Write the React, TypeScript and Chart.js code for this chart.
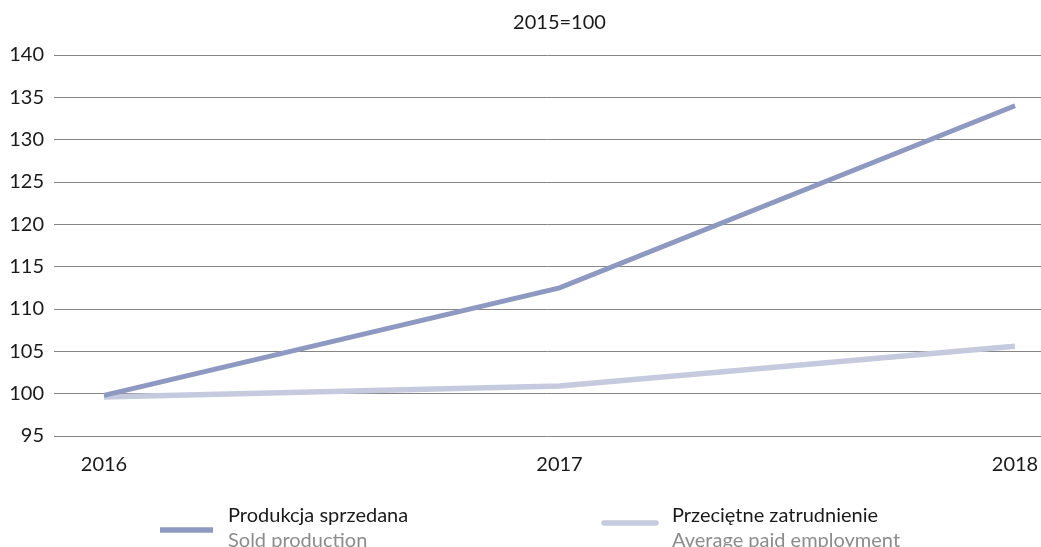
import React, { useEffect, useRef } from "react";
import { Chart, registerables } from "chart.js";

Chart.register(...registerables);

const years = [2016, 2017, 2018];
const soldProduction = [99.8, 112.5, 134.0];
const avgEmployment = [99.6, 100.9, 105.6];
const titleText = "2015=100";
const seriesNamesPl = ["Produkcja sprzedana", "Przeciętne zatrudnienie"];
const seriesNamesEn = ["Sold production", "Average paid employment"];
const seriesColors = ["#8e99c1", "#c6cade"];

const FONT = "Lato, 'Open Sans', sans-serif";

const titlePlugin = {
  id: "customTitle",
  afterDraw(chart: any) {
    const ctx = chart.ctx;
    const x = chart.scales.x.getPixelForValue(years[1]);
    ctx.save();
    ctx.font = `20px ${FONT}`;
    ctx.fillStyle = "#1a1a1a";
    ctx.textAlign = "center";
    ctx.textBaseline = "alphabetic";
    ctx.fillText(titleText, x, 29);
    ctx.restore();
  },
};

const legendPlugin = {
  id: "customLegend",
  afterDraw(chart: any) {
    const ctx = chart.ctx;
    const items = [
      { sx: 160, ex: 213, sy: 530, tx: 228, cap: "butt" },
      { sx: 604, ex: 656, sy: 523, tx: 672, cap: "round" },
    ];
    ctx.save();
    items.forEach((it, i) => {
      ctx.beginPath();
      ctx.strokeStyle = seriesColors[i];
      ctx.lineWidth = 5.5;
      ctx.lineCap = it.cap;
      ctx.moveTo(it.sx, it.sy);
      ctx.lineTo(it.ex, it.sy);
      ctx.stroke();
      ctx.font = `20px ${FONT}`;
      ctx.textAlign = "left";
      ctx.textBaseline = "alphabetic";
      ctx.fillStyle = "#1a1a1a";
      ctx.fillText(seriesNamesPl[i], it.tx, 522);
      ctx.fillStyle = "#8c8c8c";
      ctx.fillText(seriesNamesEn[i], it.tx, 547);
    });
    ctx.restore();
  },
};

export default function App() {
  const ref = useRef<HTMLCanvasElement | null>(null);

  useEffect(() => {
    if (!ref.current) return;
    const chart = new Chart(ref.current, {
      type: "line",
      data: {
        datasets: [
          {
            label: seriesNamesPl[0],
            data: years.map((y, i) => ({ x: y, y: soldProduction[i] })),
            borderColor: seriesColors[0],
            backgroundColor: seriesColors[0],
            borderWidth: 5,
            pointRadius: 0,
            tension: 0,
          },
          {
            label: seriesNamesPl[1],
            data: years.map((y, i) => ({ x: y, y: avgEmployment[i] })),
            borderColor: seriesColors[1],
            backgroundColor: seriesColors[1],
            borderWidth: 5.5,
            pointRadius: 0,
            tension: 0,
          },
        ],
      },
      options: {
        responsive: false,
        animation: false,
        devicePixelRatio: 1,
        layout: { padding: { top: 55, bottom: 71, left: 0, right: 0 } },
        plugins: {
          legend: { display: false },
          title: { display: false },
          tooltip: { enabled: false },
        },
        scales: {
          x: {
            type: "linear",
            min: 2016 - 50 / 455.5,
            max: 2018 + 26 / 455.5,
            grid: { display: false },
            border: { display: false },
            afterBuildTicks: (scale: any) => {
              scale.ticks = years.map((v) => ({ value: v }));
            },
            afterFit: (scale: any) => {
              scale.height = 40;
              scale.paddingLeft = 0;
              scale.paddingRight = 0;
            },
            ticks: {
              autoSkip: false,
              maxRotation: 0,
              padding: 9,
              color: "#1a1a1a",
              font: { family: FONT, size: 20 },
              callback: (v: any) => String(v),
            },
          },
          y: {
            min: 95,
            max: 140,
            grid: { color: "#858585", lineWidth: 1, drawTicks: false },
            border: { display: false },
            afterFit: (scale: any) => {
              scale.width = 54;
              scale.paddingTop = 0;
              scale.paddingBottom = 0;
            },
            ticks: {
              stepSize: 5,
              padding: 10,
              color: "#1a1a1a",
              font: { family: FONT, size: 20 },
            },
          },
        },
      },
      plugins: [titlePlugin, legendPlugin],
    });
    return () => chart.destroy();
  }, []);

  return (
    <div style={{ position: "absolute", left: 0, top: 0, width: 1041, height: 547, background: "#fff" }}>
      <canvas ref={ref} width={1041} height={547} style={{ display: "block" }} />
    </div>
  );
}
